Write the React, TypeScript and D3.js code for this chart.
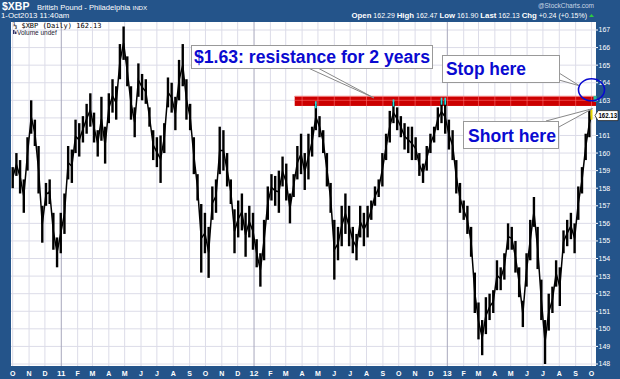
import React from 'react';
import * as d3 from 'd3';

// ---- data ----
const START = new Date(2010, 9, 1);
const END = new Date(2013, 9, 1);

// weekly high / low of $XBP, starting at START, one entry every 7 days
const weeklyHigh = [
  159.2, 160.0, 159.6, 158.5, 160.9, 163.0, 161.9, 160.4, 157.0, 158.3,
  158.5, 156.6, 155.2, 156.6, 157.7, 160.4, 160.2, 161.9, 161.7, 162.1,
  162.8, 163.4, 162.3, 161.3, 163.2, 161.5, 163.4, 164.2, 163.8, 166.2,
  167.2, 165.5, 163.8, 162.6, 165.1, 164.5, 164.2, 162.6, 161.3, 160.9,
  161.0, 161.7, 164.3, 164.0, 163.2, 165.3, 166.2, 164.2, 162.8, 160.9,
  158.8, 157.1, 156.6, 155.8, 158.1, 158.5, 161.5, 161.3, 160.0, 158.5,
  156.8, 157.3, 157.7, 156.6, 157.0, 156.6, 155.1, 154.3, 156.2, 158.1,
  158.8, 158.7, 159.0, 159.8, 159.4, 157.7, 158.8, 160.4, 161.1, 160.0,
  161.1, 161.5, 162.8, 162.1, 161.3, 160.0, 158.3, 156.2, 155.8, 157.0,
  157.7, 157.0, 155.8, 155.4, 157.0, 156.6, 157.0, 157.3, 158.1, 158.5,
  160.0, 161.1, 162.4, 162.9, 162.6, 162.1, 161.7, 161.5, 161.5, 160.9,
  160.0, 159.4, 160.4, 161.1, 161.5, 162.6, 163.0, 163.0, 161.9, 161.3,
  159.6, 158.3, 157.3, 157.0, 155.8, 153.2, 151.5, 150.5, 151.8, 152.0,
  152.2, 153.9, 153.5, 154.3, 156.0, 155.8, 155.0, 153.5, 151.6, 154.3,
  156.2, 157.5, 155.8, 152.8, 150.5, 152.0, 152.4, 153.9, 153.5, 155.6,
  156.2, 156.6, 156.0, 158.1, 159.2, 161.1, 162.5,
];
const weeklyLow = [
  158.0, 158.7, 157.7, 156.6, 159.0, 161.1, 160.4, 157.7, 154.9, 157.0,
  157.1, 154.5, 153.5, 154.3, 155.4, 158.5, 158.3, 160.0, 159.8, 160.6,
  161.1, 161.5, 160.6, 159.8, 160.7, 159.4, 161.7, 162.3, 161.9, 164.2,
  165.3, 163.8, 161.9, 160.9, 163.2, 163.0, 162.8, 161.5, 159.6, 159.2,
  158.3, 160.0, 162.6, 162.3, 161.3, 163.0, 163.8, 161.9, 161.3, 158.8,
  157.3, 153.2, 154.3, 152.9, 156.2, 156.6, 158.8, 159.0, 158.1, 157.1,
  154.3, 155.2, 155.6, 154.1, 155.2, 154.5, 153.5, 152.4, 153.9, 156.2,
  157.3, 157.0, 156.6, 158.1, 157.3, 156.0, 157.5, 158.5, 158.8, 157.9,
  158.5, 159.8, 161.3, 160.9, 160.0, 158.1, 156.6, 152.8, 153.9, 154.7,
  155.4, 154.7, 154.3, 153.9, 155.2, 154.7, 155.2, 156.2, 157.0, 157.5,
  158.1, 159.6, 160.6, 161.7, 161.3, 160.9, 160.2, 160.0, 159.6, 159.6,
  158.7, 158.3, 159.0, 160.0, 160.6, 161.3, 161.7, 161.1, 160.2, 159.6,
  157.7, 156.6, 156.2, 155.4, 154.1, 150.9, 149.4, 148.5, 149.7, 150.5,
  150.9, 152.2, 152.2, 152.8, 154.5, 154.5, 153.2, 151.8, 150.1, 152.4,
  153.9, 155.8, 153.4, 150.5, 148.0, 149.9, 150.9, 152.4, 151.3, 154.3,
  154.7, 155.1, 154.3, 156.2, 157.7, 159.6, 160.9,
];
const touchWeeks = [82, 103, 116, 117]; // peaks touching resistance (cyan)
const lastBar = { date: new Date(2013, 9, 1), high: 162.47, low: 161.9, close: 162.13 };
const yTicks = [148, 149, 150, 151, 152, 153, 154, 155, 156, 157, 158, 159, 160, 161, 162, 163, 164, 165, 166, 167];
const bandStart = new Date(2012, 2, 18);
const bandLow = 162.68;
const bandHigh = 163.25;
const stopValue = 163.6;

const W = 620, H = 379;
const L = 11, R = 596, T = 22, B = 366;
const FRAME = '#24548a';
const FONT = 'Liberation Sans, Arial, sans-serif';
const BLUE = '#0a0ad0';

export default function App() {
  const x = d3.scaleTime().domain([START, END]).range([12.7, 591.5]);
  const y = d3.scaleLinear().domain([148, 167]).range([364, 30]);
  const months = d3.timeMonth.range(START, d3.timeDay.offset(END, 1));
  const weekDates = weeklyHigh.map((_, i) => d3.timeDay.offset(START, 7 * i));
  const mid = weeklyHigh.map((h, i) => (h + weeklyLow[i]) / 2);
  const connector = d3.line<number>().x((_, i) => x(weekDates[i])).y((v) => y(v))(mid) || '';
  const fmtMonth = (d: Date) => (d.getMonth() === 0 ? d3.timeFormat('%y')(d) : d3.timeFormat('%b')(d)[0]);

  const bx0 = x(bandStart), by0 = y(bandHigh), by1 = y(bandLow);
  const cx = x(END), cy = y(stopValue);
  const lastY = y(lastBar.close);

  const gridLines = (stroke: string, yearStroke: string) => (
    <g>
      {yTicks.map((t) => (
        <line key={'h' + t} x1={L} x2={R} y1={y(t)} y2={y(t)} stroke={stroke} strokeWidth={1} />
      ))}
      {months.map((m, i) => (
        <line key={'v' + i} x1={x(m)} x2={x(m)} y1={T} y2={B} stroke={m.getMonth() === 0 ? yearStroke : stroke} strokeWidth={1} />
      ))}
    </g>
  );

  return (
    <svg width={W} height={H} style={{ position: 'absolute', left: 0, top: 0 }} fontFamily={FONT}>
      <defs>
        <clipPath id="band"><rect x={bx0} y={by0} width={R - bx0} height={by1 - by0} /></clipPath>
        <clipPath id="plot"><rect x={L} y={T} width={R - L} height={B - T} /></clipPath>
      </defs>
      <rect x={0} y={0} width={W} height={H} fill={FRAME} />
      <rect x={L} y={T} width={R - L} height={B - T} fill="#ffffff" />
      {gridLines('#dcdce8', '#a8a8bc')}

      {/* header */}
      <text x={2} y={10} fill="#fff" fontSize={10.5} fontWeight="bold">$XBP</text>
      <text x={37} y={10} fill="#fff" fontSize={7.6}>British Pound - Philadelphia <tspan fontSize={6.2}>INDX</tspan></text>
      <text x={1} y={18} fill="#fff" fontSize={7.8}>1-Oct2013 11:40am</text>
      <text x={594} y={8} fill="#c9d6e6" fontSize={6.5} textAnchor="end">@StockCharts.com</text>
      <text x={587} y={17.5} fill="#fff" fontSize={7} textAnchor="end">
        <tspan fontWeight="bold" fontSize={7.8}>Open</tspan> 162.29 <tspan fontWeight="bold" fontSize={7.8}>High</tspan> 162.47{' '}
        <tspan fontWeight="bold" fontSize={7.8}>Low</tspan> 161.90 <tspan fontWeight="bold" fontSize={7.8}>Last</tspan> 162.13{' '}
        <tspan fontWeight="bold" fontSize={7.8}>Chg</tspan> +0.24 (+0.15%)
      </text>
      <path d="M589,17 l2.5,-3 l2.5,3 z" fill="#2ecc40" />

      {/* legend */}
      <text x={13} y={27.5} fill="#000" fontSize={7} fontFamily="DejaVu Sans Mono, monospace">⅓ $XBP (Daily) 162.13</text>
      <rect x={13} y={30} width={1.5} height={4} fill="#336" />
      <rect x={15} y={31.5} width={1.5} height={2.5} fill="#336" />
      <text x={17} y={34.5} fill="#223" fontSize={6.5}>Volume undef</text>

      {/* resistance band */}
      <rect x={bx0} y={by0} width={R - bx0} height={by1 - by0} fill="#cc0000" />
      <line x1={bx0} x2={R} y1={by0 + 0.5} y2={by0 + 0.5} stroke="#f08080" strokeWidth={1} />
      <g clipPath="url(#band)">{gridLines('rgba(255,120,120,0.55)', 'rgba(255,120,120,0.55)')}</g>
      <rect x={R - 2.5} y={by0} width={3} height={6} fill="#2fc49a" />

      {/* price bars */}
      <g clipPath="url(#plot)">
        <path d={connector} fill="none" stroke="#000" strokeWidth={1.5} />
        {weeklyHigh.map((h, i) => (
          <line key={i} x1={x(weekDates[i])} x2={x(weekDates[i])} y1={y(h)} y2={y(weeklyLow[i])} stroke="#000" strokeWidth={2.4} />
        ))}
        {touchWeeks.map((i) => (
          <line key={'c' + i} x1={x(weekDates[i])} x2={x(weekDates[i])} y1={y(weeklyHigh[i] + 0.15)} y2={y(weeklyHigh[i] - 0.25)} stroke="#22e0e0" strokeWidth={1.6} />
        ))}
        <line x1={x(weekDates[weekDates.length - 1])} x2={x(lastBar.date)} y1={y(mid[mid.length - 1])} y2={lastY} stroke="#000" strokeWidth={1.5} />
        <line x1={x(lastBar.date)} x2={x(lastBar.date)} y1={y(lastBar.high)} y2={y(lastBar.low)} stroke="#e8d800" strokeWidth={2} />
      </g>

      {/* right axis */}
      {yTicks.filter((t) => Math.abs(y(t) - lastY) > 6).map((t) => (
        <g key={'y' + t}>
          <line x1={R} x2={R + 2} y1={y(t)} y2={y(t)} stroke="#fff" />
          <text x={598.5} y={y(t)} dy="0.35em" fill="#fff" fontSize={7}>{t}</text>
        </g>
      ))}
      <path d={`M${R - 1},${lastY} l3,-5 h20 v10 h-20 z`} fill="#fff" stroke="#222" strokeWidth={0.8} />
      <text x={598.5} y={lastY} dy="0.36em" fill="#000" fontSize={7} fontWeight="bold" textLength={18.5} lengthAdjust="spacingAndGlyphs">{lastBar.close.toFixed(2)}</text>

      {/* bottom axis */}
      {months.map((m, i) => (
        <text key={'m' + i} x={x(m)} y={376} fill="#fff" textAnchor="middle" fontWeight="bold" fontSize={m.getMonth() === 0 ? 8 : 7}>{fmtMonth(m)}</text>
      ))}

      {/* annotations */}
      <polygon points={`306,67 316,67 ${x(d3.timeDay.offset(bandStart, 150))},${by0 + 2}`} fill="#fff" stroke="#888" strokeWidth={1} />
      <rect x={191.5} y={45.5} width={241} height={23} fill="#fff" stroke="#999" />
      <text x={194} y={63} fill={BLUE} fontSize={18} fontWeight="bold" textLength={236} lengthAdjust="spacingAndGlyphs">$1.63: resistance for 2 years</text>

      <polygon points={`559,73 559,80 ${cx - 12},${cy - 4}`} fill="#fff" stroke="#888" strokeWidth={1} />
      <rect x={442.5} y={55.5} width={117} height={27} fill="#fff" stroke="#999" />
      <text x={446} y={75} fill={BLUE} fontSize={18} fontWeight="bold" textLength={80} lengthAdjust="spacingAndGlyphs">Stop here</text>

      <polygon points={`546,121 557,128 ${x(lastBar.date) + 1},${y(lastBar.high) - 1}`} fill="#fff" stroke="#888" strokeWidth={1} />
      <rect x={463.5} y={121.5} width={95} height={27} fill="#fff" stroke="#999" />
      <text x={468} y={142} fill={BLUE} fontSize={18} fontWeight="bold" textLength={88} lengthAdjust="spacingAndGlyphs">Short here</text>

      <ellipse cx={cx} cy={cy} rx={13} ry={11} fill="none" stroke={BLUE} strokeWidth={1.6} />
    </svg>
  );
}
